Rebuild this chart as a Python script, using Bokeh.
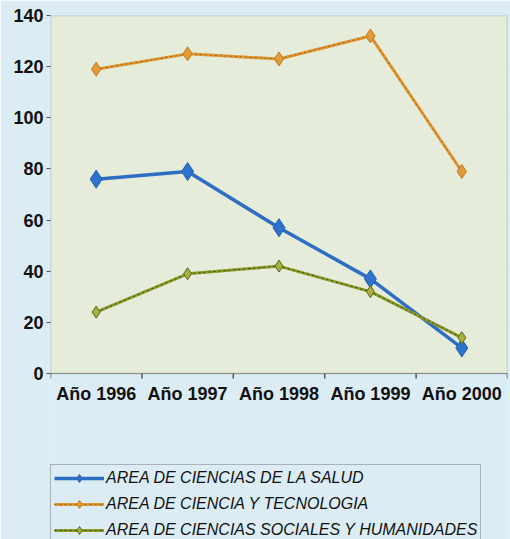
import math
from bokeh.plotting import figure
from bokeh.models import FixedTicker, Legend, LegendItem, Range1d, BoxAnnotation
from bokeh.core.properties import value
from bokeh.embed import file_html
from bokeh.resources import INLINE

years = ["Año 1996", "Año 1997", "Año 1998", "Año 1999", "Año 2000"]
salud = [76, 79, 57, 37, 10]
tecnologia = [119, 125, 123, 132, 79]
sociales = [24, 39, 42, 32, 14]
y_ticks = [0, 20, 40, 60, 80, 100, 120, 140]
names = ["AREA DE CIENCIAS DE LA SALUD",
         "AREA DE CIENCIA Y TECNOLOGIA",
         "AREA DE CIENCIAS SOCIALES Y HUMANIDADES"]

BG = "#dbecf4"
PLOT_BG = "#e5ecd9"
styles = [
    dict(color="#2d6ec4", width=3.5, size=18, fill="#2d73cc", edge="#2060b0", dash=None),
    dict(color="#e0952f", width=3, size=14, fill="#e39a38", edge="#c07a20", dash="#8a5a20"),
    dict(color="#8a9a26", width=3, size=12, fill="#a8b040", edge="#5a6418", dash="#2a3008"),
]

# layout (pixels): plot area 358 px tall for 0..140, extra space below for labels + legend
W, H = 510, 539
TOP, LEFT, RIGHT = 15, 50, 3
AREA_H = 358
frame_h = H - TOP
ymax = y_ticks[-1]
ymin = -ymax * (frame_h - AREA_H) / AREA_H

xs = [i + 0.5 for i in range(len(years))]
bounds = list(range(len(years) + 1))

p = figure(width=W, height=H, output_backend="svg", toolbar_location=None,
           x_range=Range1d(0, len(years)), y_range=Range1d(ymin, ymax),
           x_axis_location=None,
           min_border_left=LEFT, min_border_right=RIGHT, min_border_top=TOP, min_border_bottom=0)
p.background_fill_color = BG
p.border_fill_color = BG
p.outline_line_color = None

p.add_layout(BoxAnnotation(left=0, right=len(years), bottom=0, top=ymax,
                           fill_color=PLOT_BG, fill_alpha=1.0, line_color=None, level="underlay"))

p.xgrid.visible = False
p.ygrid.ticker = FixedTicker(ticks=y_ticks)
p.ygrid.grid_line_color = "#6a6a6a"
p.ygrid.grid_line_width = 1.2

p.yaxis.ticker = FixedTicker(ticks=y_ticks)
p.yaxis.axis_line_color = None
p.yaxis.minor_tick_line_color = None
p.yaxis.major_tick_out = 4
p.yaxis.major_tick_in = 0
p.yaxis.major_tick_line_color = "#555555"
p.yaxis.major_label_text_font = "Liberation Sans"
p.yaxis.major_label_text_font_size = "18px"
p.yaxis.major_label_text_font_style = "bold"
p.yaxis.major_label_text_color = "#111111"
p.yaxis.major_label_standoff = 3

# plot-area border (acts as the axis lines)
p.add_layout(BoxAnnotation(left=0, right=len(years), bottom=0, top=ymax,
                           fill_alpha=0, line_color="#5a5a5a", line_width=1.5))

# category boundary ticks and category labels under the zero line
p.ray(x=bounds, y=[0] * len(bounds), length=5, length_units="screen",
      angle=-math.pi / 2, line_color="#555555", line_width=1.5)
p.text(x=xs, y=[0] * len(xs), text=years, x_offset=0, y_offset=10,
       text_align="center", text_baseline="top",
       text_font=value("Liberation Sans"), text_font_size="18px",
       text_font_style="bold", text_color="#111111")

series = [salud, tecnologia, sociales]
items = []
for name, ys, st in zip(names, series, styles):
    rs = [p.line(xs, ys, line_color=st["color"], line_width=st["width"])]
    if st["dash"]:
        rs.append(p.line(xs, ys, line_color=st["dash"], line_width=1, line_dash="2 3", line_alpha=0.75))
    rs.append(p.scatter(xs, ys, marker="diamond", size=st["size"],
                        fill_color=st["fill"], line_color=st["edge"]))
    items.append(LegendItem(label=name, renderers=rs))

legend = Legend(items=items, location=(0, -5), orientation="vertical")
legend.label_text_font = "Liberation Sans"
legend.label_text_font_style = "italic"
legend.label_text_font_size = "16px"
legend.label_text_color = "#111111"
legend.glyph_width = 50
legend.glyph_height = 20
legend.label_height = 20
legend.label_standoff = 2
legend.spacing = 6
legend.padding = 3
legend.margin = 0
legend.border_line_color = "#777777"
legend.border_line_width = 1
legend.background_fill_color = BG
legend.background_fill_alpha = 1.0
p.add_layout(legend, "center")

open("out.html", "w").write(file_html(p, INLINE))
